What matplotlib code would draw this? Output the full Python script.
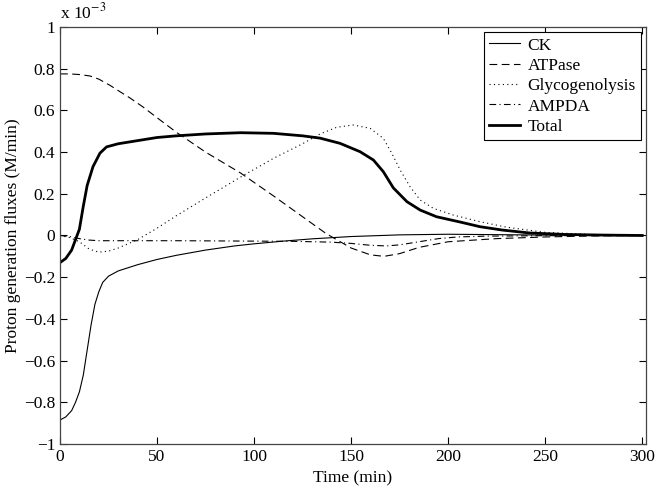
import matplotlib
matplotlib.use('Agg')
import matplotlib.pyplot as plt
from matplotlib.ticker import FuncFormatter

plt.rcParams['font.family'] = ['Liberation Serif', 'DejaVu Serif']
plt.rcParams['mathtext.fontset'] = 'stix'

# ==============================================================================
# Data (fluxes in units of 1e-3 M/min)
# ==============================================================================
t_ck = [0, 3, 6, 8, 10, 12, 14, 16, 18, 20, 22, 25, 30, 40, 50, 60, 75, 90,
        100, 115, 130, 150, 175, 200, 225, 250, 275, 300]
ck = [-0.885, -0.87, -0.84, -0.80, -0.75, -0.67, -0.55, -0.43, -0.33, -0.27,
      -0.225, -0.195, -0.17, -0.14, -0.115, -0.095, -0.07, -0.05, -0.04,
      -0.027, -0.016, -0.005, 0.003, 0.006, 0.004, 0.002, 0.001, 0.0]

t_atp = [0, 5, 10, 15.5, 20, 25.8, 30, 36, 43, 50, 60, 75, 93, 110, 125, 137,
         150, 160, 167, 175, 185, 200, 225, 250, 275, 300]
atp = [0.775, 0.775, 0.772, 0.765, 0.75, 0.72, 0.695, 0.66, 0.615, 0.565,
       0.495, 0.40, 0.30, 0.19, 0.09, 0.01, -0.06, -0.093, -0.10, -0.087,
       -0.057, -0.03, -0.015, -0.007, -0.002, 0.0]

t_gly = [0, 5, 10, 15, 20, 25, 30, 40, 50, 60, 75, 93, 110, 125, 134, 142.6,
         151, 159.8, 166.6, 171, 175.3, 180.4, 185.6, 192.4, 202.7, 216.5,
         230, 250, 275, 300]
gly = [0.0, -0.01, -0.03, -0.065, -0.08, -0.075, -0.06, -0.02, 0.035, 0.095,
       0.18, 0.28, 0.37, 0.44, 0.487, 0.519, 0.53, 0.514, 0.466, 0.394, 0.314,
       0.234, 0.17, 0.13, 0.098, 0.066, 0.04, 0.015, 0.004, 0.0]

t_amp = [0, 5, 10, 15, 20, 40, 60, 80, 100, 120, 140, 150, 160, 168, 175, 185,
         195, 205, 220, 250, 300]
amp = [0.0, -0.005, -0.015, -0.022, -0.025, -0.025, -0.025, -0.026, -0.027,
       -0.028, -0.032, -0.038, -0.047, -0.05, -0.045, -0.03, -0.015, -0.007,
       -0.003, -0.001, 0.0]

t_tot = [0, 3, 6, 8.6, 10, 12, 14, 17, 20.6, 24, 30, 40, 50, 60, 75, 93, 110,
         125, 134, 144.3, 154.6, 161.5, 166.6, 171.8, 178.8, 185.6, 194, 206,
         216.5, 228, 242, 260, 280, 300]
tot = [-0.13, -0.11, -0.07, -0.005, 0.03, 0.14, 0.24, 0.33, 0.395, 0.425,
       0.44, 0.455, 0.47, 0.478, 0.487, 0.493, 0.49, 0.478, 0.467, 0.442,
       0.402, 0.362, 0.306, 0.228, 0.162, 0.122, 0.09, 0.065, 0.042, 0.026,
       0.012, 0.005, 0.002, 0.0]

# ==============================================================================
# Plot
# ==============================================================================
fig = plt.figure(figsize=(6.6, 4.9), dpi=100)
ax = fig.add_axes([0.0909, 0.0939, 0.888, 0.851])

ax.plot(t_ck, ck, color='black', lw=0.8, label='CK')
ax.plot(t_atp, atp, color='black', lw=0.8, ls=(0, (7, 4)), label='ATPase')
ax.plot(t_gly, gly, color='black', lw=0.8, ls=(0, (1, 3)), label='Glycogenolysis')
ax.plot(t_amp, amp, color='black', lw=0.8, ls=(0, (6, 3, 1, 3)), label='AMPDA')
ax.plot(t_tot, tot, color='black', lw=2.0, label='Total')

ax.set_xlim(0, 302)
ax.set_ylim(-1, 1)
ax.set_xticks([0, 50, 100, 150, 200, 250, 300])
ax.set_yticks([-1, -0.8, -0.6, -0.4, -0.2, 0, 0.2, 0.4, 0.6, 0.8, 1])

def fmt(v, pos):
    s = '%g' % round(v, 2)
    return s.replace('-', '\u2212')

ax.yaxis.set_major_formatter(FuncFormatter(fmt))
ax.tick_params(direction='in', top=True, right=True, length=5, width=0.8,
               labelsize=12.5, colors='black')
for sp in ax.spines.values():
    sp.set_linewidth(0.9)
    sp.set_color('#444444')

ax.set_xlabel('Time (min)', fontsize=12.5, labelpad=4)
ax.set_ylabel('Proton generation fluxes (M/min)', fontsize=12.5, labelpad=2)
ax.text(0.0, 1.012, r'x 10$^{-3}$', transform=ax.transAxes, fontsize=12.5,
        ha='left', va='bottom')

leg = ax.legend(loc='upper right', fontsize=12.5, frameon=True, fancybox=False,
                edgecolor='black', framealpha=1, labelspacing=0.24,
                handlelength=1.8, handletextpad=0.4, borderpad=0.3,
                borderaxespad=0.3)
leg.get_frame().set_linewidth(0.8)

plt.savefig('out.png', dpi=100)
